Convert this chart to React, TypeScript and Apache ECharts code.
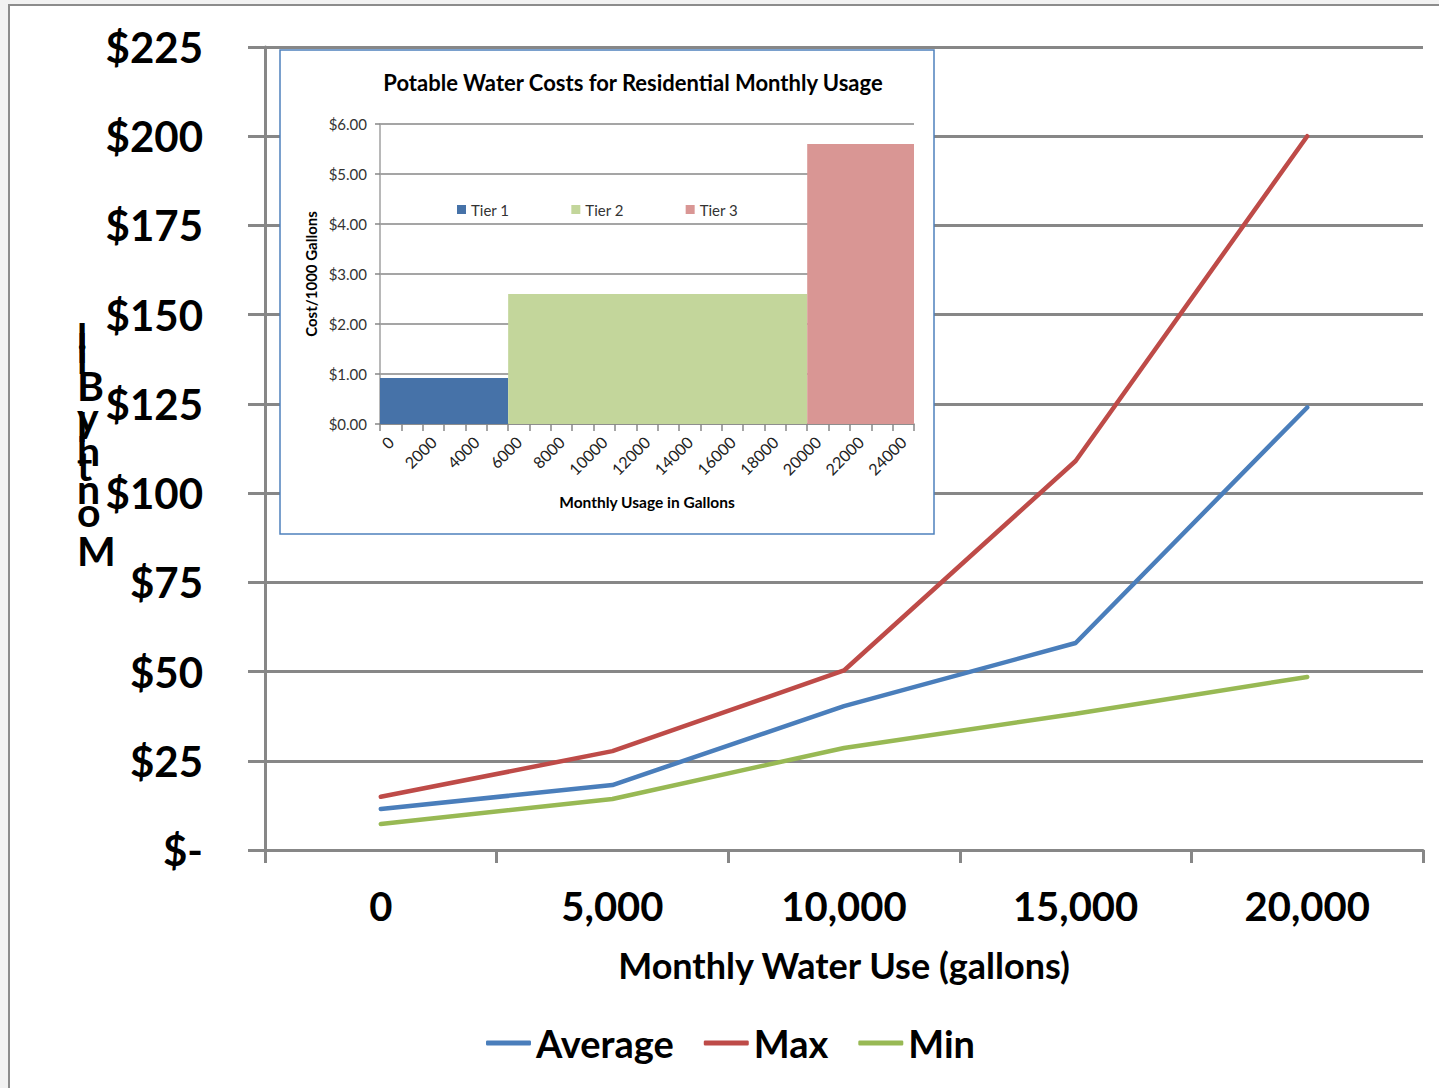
import React, { useEffect, useRef } from "react";
import * as echarts from "echarts";

// ---------- data ----------
const categories = ["0", "5,000", "10,000", "15,000", "20,000"];
const averageValues = [11.5, 18.2, 40.3, 58, 124];
const maxValues = [14.9, 27.7, 50.3, 109, 200];
const minValues = [7.3, 14.3, 28.6, 38.2, 48.5];

const usageCategories = [
  "0", "1000", "2000", "3000", "4000", "5000", "6000", "7000", "8000", "9000",
  "10000", "11000", "12000", "13000", "14000", "15000", "16000", "17000", "18000",
  "19000", "20000", "21000", "22000", "23000", "24000",
];
const tierNames = ["Tier 1", "Tier 2", "Tier 3"];
const tierFirst = ["0", "6000", "20000"];
const tierLast = ["5000", "19000", "24000"];
const tierRates = [0.92, 2.6, 5.6];
const tierColors = ["#4672a8", "#c3d69b", "#d99694"];

const seriesColors: Record<string, string> = { Average: "#4a7ebb", Max: "#be4b48", Min: "#98b954" };

const mainTitle = "Potable Water Costs for Residential Monthly Usage";
const yAxisTitle = "Monthly Bill";

const FONT = "Lato, 'Open Sans', sans-serif";

function measureAdvances(text: string, font: string): number[] {
  try {
    const ctx = document.createElement("canvas").getContext("2d");
    if (ctx) {
      ctx.font = font;
      return Array.from(text).map((ch) => ctx.measureText(ch).width);
    }
  } catch (e) {}
  return Array.from(text).map(() => 20);
}

export default function App() {
  const ref = useRef<HTMLDivElement>(null);

  useEffect(() => {
    if (!ref.current) return;
    const chart = echarts.init(ref.current, null, { renderer: "svg" });

    // stacked y-axis title: upright glyphs, advancing upwards from "M"
    const yFontSize = 41;
    const yFont = `bold ${yFontSize}px Lato`;
    const chars = Array.from(yAxisTitle);
    const adv = measureAdvances(yAxisTitle, yFont);
    let baseY = 563;
    const letterEls: any[] = [];
    chars.forEach((ch, i) => {
      if (ch !== " ") {
        letterEls.push({
          type: "text",
          z: 20,
          x: 77,
          y: baseY + yFontSize * 0.2,
          style: {
            text: ch,
            font: yFont,
            fill: "#000",
            textAlign: "left",
            verticalAlign: "bottom",
          },
        });
      }
      baseY -= adv[i];
    });

    const tierSeries = tierNames.map((name, i) => ({
      type: "custom",
      name,
      xAxisIndex: 1,
      yAxisIndex: 1,
      z: 6,
      itemStyle: { color: tierColors[i] },
      encode: { x: [0, 1], y: 2 },
      data: [[usageCategories.indexOf(tierFirst[i]), usageCategories.indexOf(tierLast[i]), tierRates[i]]],
      renderItem: (params: any, api: any) => {
        const half = api.size([1, 0])[0] / 2;
        const top = api.coord([api.value(0), api.value(2)]);
        const bottom = api.coord([api.value(1), 0]);
        const x0 = top[0] - half;
        const x1 = bottom[0] + half;
        return {
          type: "rect",
          shape: { x: x0, y: top[1], width: x1 - x0, height: bottom[1] - top[1] },
          style: { fill: tierColors[i] },
        };
      },
    }));

    const lineSeries = [
      { name: "Average", data: averageValues },
      { name: "Max", data: maxValues },
      { name: "Min", data: minValues },
    ].map((s) => ({
      type: "line",
      name: s.name,
      xAxisIndex: 0,
      yAxisIndex: 0,
      data: s.data,
      z: 2,
      showSymbol: false,
      symbol: "none",
      color: seriesColors[s.name],
      lineStyle: { width: 4.5, color: seriesColors[s.name], cap: "round" },
    }));

    const gray = "#878787";

    const option: any = {
      animation: false,
      backgroundColor: "transparent",
      textStyle: { fontFamily: FONT },
      title: {
        text: mainTitle,
        left: 628,
        top: 66,
        textAlign: "center",
        z: 10,
        textStyle: { fontFamily: FONT, fontWeight: "bold", fontSize: 22, color: "#000" },
      },
      legend: [
        {
          data: ["Average", "Max", "Min"],
          left: 481,
          top: 1019,
          icon: "roundRect",
          itemWidth: 45,
          itemHeight: 5,
          itemGap: 30,
          textStyle: { fontFamily: FONT, fontWeight: "bold", fontSize: 38, color: "#000" },
        },
        {
          data: tierNames,
          left: 452,
          top: 197,
          icon: "rect",
          itemWidth: 9,
          itemHeight: 9,
          itemGap: 62,
          z: 8,
          textStyle: { fontFamily: FONT, fontSize: 15, color: "#333" },
        },
      ],
      grid: [
        { left: 265, right: 16, top: 47, bottom: 238 },
        { left: 380, right: 525, top: 124, bottom: 664 },
      ],
      xAxis: [
        {
          type: "category",
          gridIndex: 0,
          data: categories,
          boundaryGap: true,
          z: 1,
          axisLine: { lineStyle: { color: gray, width: 3 } },
          axisTick: { show: true, length: 13, lineStyle: { color: gray, width: 3 } },
          axisLabel: { fontFamily: FONT, fontWeight: "bold", fontSize: 40, color: "#000", margin: 36 },
          splitLine: { show: false },
          name: "Monthly Water Use (gallons)",
          nameLocation: "middle",
          nameGap: 97,
          nameTextStyle: { fontFamily: FONT, fontWeight: "bold", fontSize: 36, color: "#000" },
        },
        {
          type: "category",
          gridIndex: 1,
          data: usageCategories,
          boundaryGap: true,
          z: 5,
          axisLine: { lineStyle: { color: gray, width: 1.5 } },
          axisTick: { show: true, interval: 0, length: 7, lineStyle: { color: gray, width: 1.5 } },
          axisLabel: {
            interval: 1,
            rotate: 45,
            fontFamily: FONT,
            fontSize: 16,
            color: "#222",
            margin: 15,
          },
          splitLine: { show: false },
          name: "Monthly Usage in Gallons",
          nameLocation: "middle",
          nameGap: 70,
          nameTextStyle: { fontFamily: FONT, fontWeight: "bold", fontSize: 15.5, color: "#000" },
        },
      ],
      yAxis: [
        {
          type: "value",
          gridIndex: 0,
          min: 0,
          max: 225,
          interval: 25,
          z: 1,
          axisLine: { show: true, lineStyle: { color: gray, width: 3 } },
          axisTick: { show: true, length: 17, lineStyle: { color: gray, width: 3 } },
          axisLabel: {
            fontFamily: FONT,
            fontWeight: "bold",
            fontSize: 42,
            color: "#000",
            margin: 62,
            formatter: (v: number) => (v === 0 ? "$-" : "$" + v),
          },
          splitLine: { show: true, lineStyle: { color: gray, width: 3 } },
        },
        {
          type: "value",
          gridIndex: 1,
          min: 0,
          max: 6,
          interval: 1,
          z: 5,
          axisLine: { show: true, lineStyle: { color: "#a0a0a0", width: 1.5 } },
          axisTick: { show: true, length: 5, lineStyle: { color: gray, width: 1.5 } },
          axisLabel: {
            fontFamily: FONT,
            fontSize: 15,
            color: "#333",
            margin: 13,
            formatter: (v: number) => "$" + v.toFixed(2),
          },
          splitLine: { show: true, lineStyle: { color: gray, width: 1.5 } },
          name: "Cost/1000 Gallons",
          nameLocation: "middle",
          nameGap: 62,
          nameRotate: 90,
          nameTextStyle: { fontFamily: FONT, fontWeight: "bold", fontSize: 15, color: "#000" },
        },
      ],
      graphic: [
        {
          type: "rect",
          z: 3,
          shape: { x: 280, y: 50, width: 654, height: 484 },
          style: { fill: "#fff", stroke: "#4f81bd", lineWidth: 1.5 },
        },
        ...letterEls,
      ],
      series: [...lineSeries, ...tierSeries],
    };

    chart.setOption(option);
    return () => chart.dispose();
  }, []);

  return (
    <div style={{ position: "fixed", inset: 0, background: "#f2f2f2", overflow: "hidden" }}>
      <div
        style={{
          position: "absolute",
          left: 8,
          top: 4,
          width: 1600,
          height: 1300,
          background: "#fff",
          border: "2px solid #8c8c8c",
          boxSizing: "border-box",
        }}
      />
      <div ref={ref} style={{ position: "absolute", left: 0, top: 0, width: 1439, height: 1088 }} />
    </div>
  );
}
